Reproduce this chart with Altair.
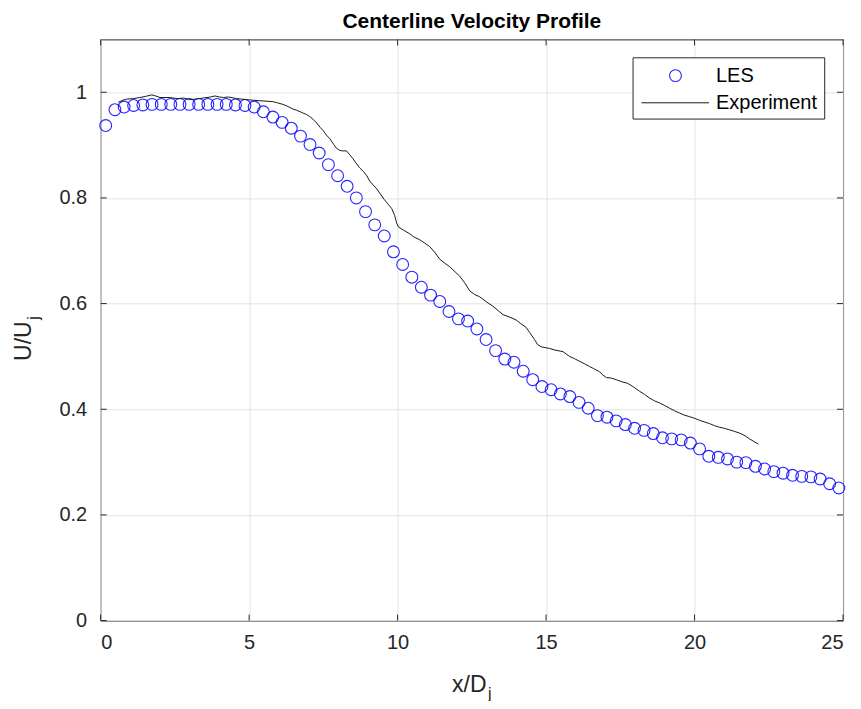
import altair as alt
import pandas as pd

# ---------------- data ----------------
les_x = [0.17, 0.48, 0.79, 1.11, 1.42, 1.73, 2.04, 2.36, 2.67, 2.98,
         3.30, 3.61, 3.92, 4.23, 4.54, 4.86, 5.17, 5.48, 5.80, 6.11,
         6.42, 6.73, 7.05, 7.36, 7.67, 7.98, 8.30, 8.61, 8.92, 9.23,
         9.55, 9.86, 10.17, 10.48, 10.80, 11.11, 11.42, 11.73, 12.05, 12.36,
         12.67, 12.98, 13.30, 13.61, 13.92, 14.23, 14.55, 14.86, 15.17, 15.48,
         15.80, 16.11, 16.42, 16.73, 17.05, 17.36, 17.67, 17.98, 18.30, 18.61,
         18.92, 19.23, 19.55, 19.86, 20.17, 20.48, 20.80, 21.11, 21.42, 21.73,
         22.05, 22.36, 22.67, 22.98, 23.30, 23.61, 23.92, 24.23, 24.55, 24.86]
les_y = [0.937, 0.967, 0.972, 0.975, 0.976, 0.977, 0.977, 0.977, 0.977, 0.977,
         0.977, 0.977, 0.977, 0.977, 0.976, 0.975, 0.972, 0.963, 0.953, 0.943,
         0.932, 0.917, 0.901, 0.885, 0.863, 0.842, 0.822, 0.800, 0.774, 0.749,
         0.728, 0.698, 0.674, 0.650, 0.631, 0.616, 0.604, 0.585, 0.571, 0.567,
         0.552, 0.532, 0.511, 0.495, 0.489, 0.472, 0.456, 0.443, 0.437, 0.429,
         0.424, 0.413, 0.402, 0.388, 0.385, 0.378, 0.371, 0.364, 0.360, 0.354,
         0.346, 0.344, 0.342, 0.336, 0.325, 0.311, 0.309, 0.306, 0.300, 0.299,
         0.292, 0.287, 0.282, 0.279, 0.275, 0.273, 0.272, 0.268, 0.259, 0.251]

exp_x = [0.59, 0.75, 0.87, 1.10, 1.32, 1.50, 1.72, 1.85, 2.00, 2.30,
         2.60, 2.80, 3.00, 3.20, 3.45, 3.70, 3.85, 4.00, 4.13, 4.30,
         4.58, 4.75, 4.91, 5.10, 5.36, 5.60, 5.81, 5.95, 6.14, 6.31,
         6.48, 6.60, 6.80, 6.93, 7.04, 7.15, 7.27, 7.40, 7.50, 7.60,
         7.72, 7.85, 7.94, 8.05, 8.15, 8.28, 8.40, 8.50, 8.60, 8.72,
         8.85, 8.95, 9.06, 9.20, 9.30, 9.40, 9.55, 9.68, 9.80, 9.90,
         9.97, 10.03, 10.20, 10.41, 10.55, 10.74, 10.90, 11.08, 11.25, 11.42,
         11.60, 11.75, 11.90, 12.09, 12.25, 12.43, 12.60, 12.76, 13.00, 13.21,
         13.40, 13.55, 13.75, 13.99, 14.15, 14.33, 14.45, 14.61, 14.72, 14.85,
         15.12, 15.30, 15.57, 15.79, 15.95, 16.12, 16.30, 16.46, 16.60, 16.80,
         16.91, 17.03, 17.20, 17.36, 17.55, 17.75, 17.95, 18.15, 18.32, 18.49,
         18.65, 18.82, 19.00, 19.16, 19.33, 19.49, 19.65, 19.83, 20.00, 20.17,
         20.33, 20.50, 20.67, 20.84, 21.00, 21.18, 21.35, 21.51, 21.70, 21.85,
         22.00, 22.15]
exp_y = [0.981, 0.985, 0.987, 0.988, 0.990, 0.992, 0.995, 0.993, 0.990, 0.990,
         0.988, 0.989, 0.986, 0.987, 0.989, 0.991, 0.993, 0.991, 0.990, 0.991,
         0.988, 0.987, 0.986, 0.985, 0.984, 0.983, 0.982, 0.980, 0.977, 0.973,
         0.968, 0.966, 0.961, 0.958, 0.954, 0.949, 0.942, 0.933, 0.927, 0.919,
         0.912, 0.901, 0.894, 0.890, 0.889, 0.889, 0.881, 0.874, 0.866, 0.857,
         0.850, 0.843, 0.832, 0.823, 0.817, 0.809, 0.797, 0.788, 0.780, 0.767,
         0.752, 0.745, 0.739, 0.732, 0.726, 0.721, 0.715, 0.708, 0.697, 0.684,
         0.676, 0.670, 0.662, 0.652, 0.640, 0.624, 0.617, 0.613, 0.603, 0.595,
         0.586, 0.579, 0.575, 0.569, 0.562, 0.555, 0.545, 0.532, 0.522, 0.518,
         0.515, 0.512, 0.509, 0.500, 0.496, 0.491, 0.486, 0.481, 0.477, 0.471,
         0.465, 0.460, 0.459, 0.456, 0.452, 0.449, 0.442, 0.434, 0.428, 0.421,
         0.416, 0.412, 0.407, 0.402, 0.397, 0.393, 0.389, 0.386, 0.383, 0.379,
         0.376, 0.373, 0.369, 0.366, 0.364, 0.361, 0.358, 0.355, 0.350, 0.344,
         0.339, 0.334]

x_ticks = [0, 5, 10, 15, 20, 25]
y_ticks = [0, 0.2, 0.4, 0.6, 0.8, 1]
legend_labels = ["LES", "Experiment"]
title_text = "Centerline Velocity Profile"
x_title = ["x/D", "j"]
y_title = ["U/U", "j"]

# ---------------- layout / style ----------------
FONT = "Liberation Sans"
W, H = 742.6, 581.4
INK = "#262626"
TICK_FS = 20
LAB_FS = 23
SUB_FS = 16
PT_SIZE = 140

les_df = pd.DataFrame({"x": les_x, "y": les_y})
exp_df = pd.DataFrame({"x": exp_x, "y": exp_y})
xt_df = pd.DataFrame({"x": x_ticks})
yt_df = pd.DataFrame({"y": y_ticks})
one = pd.DataFrame({"k": [0]})

xscale = alt.Scale(domain=[0, 25], nice=False, zero=False)
yscale = alt.Scale(domain=[0, 1.1], nice=False, zero=False)

x_axis = alt.Axis(values=x_ticks, grid=True, gridColor="#e3e3e3", gridWidth=1,
                  domain=False, ticks=False, labelFontSize=TICK_FS, labelFont=FONT,
                  labelColor=INK, labelPadding=12, title=None, format="~g")
y_axis = alt.Axis(values=y_ticks, grid=True, gridColor="#e3e3e3", gridWidth=1,
                  domain=False, ticks=False, labelFontSize=TICK_FS, labelFont=FONT,
                  labelColor=INK, labelPadding=14, title=None, format="~g")

les = alt.Chart(les_df).mark_point(shape="circle", filled=False, color="#0000ff",
                                   size=PT_SIZE, strokeWidth=1.1, opacity=0.85).encode(
    x=alt.X("x:Q", scale=xscale, axis=x_axis),
    y=alt.Y("y:Q", scale=yscale, axis=y_axis),
)

exp = alt.Chart(exp_df).mark_line(color="#1a1a1a", strokeWidth=1).encode(
    x=alt.X("x:Q", scale=xscale),
    y=alt.Y("y:Q", scale=yscale),
)

tick_len = 6
xt_bot = alt.Chart(xt_df).mark_rule(color=INK, strokeWidth=1).encode(
    x=alt.X("x:Q", scale=xscale), y=alt.value(H), y2=alt.value(H - tick_len))
xt_top = alt.Chart(xt_df).mark_rule(color=INK, strokeWidth=1).encode(
    x=alt.X("x:Q", scale=xscale), y=alt.value(0), y2=alt.value(tick_len))
yt_left = alt.Chart(yt_df).mark_rule(color=INK, strokeWidth=1).encode(
    y=alt.Y("y:Q", scale=yscale), x=alt.value(0), x2=alt.value(tick_len))
yt_right = alt.Chart(yt_df).mark_rule(color=INK, strokeWidth=1).encode(
    y=alt.Y("y:Q", scale=yscale), x=alt.value(W), x2=alt.value(W - tick_len))

# legend (drawn manually, MATLAB style)
lg_box = alt.Chart(one).mark_rect(fill="white", stroke=INK, strokeWidth=1).encode(
    x=alt.value(532.6), x2=alt.value(724.3), y=alt.value(18.4), y2=alt.value(79.7))
lg_pt = alt.Chart(one).mark_point(shape="circle", filled=False, color="#0000ff",
                                  size=PT_SIZE, strokeWidth=1.1, opacity=0.85).encode(
    x=alt.value(575), y=alt.value(36.2))
lg_line = alt.Chart(one).mark_rule(color="#1a1a1a", strokeWidth=1).encode(
    x=alt.value(541), x2=alt.value(608.6), y=alt.value(63.4))
lg_txt1 = alt.Chart(pd.DataFrame({"t": [legend_labels[0]]})).mark_text(
    align="left", baseline="middle", font=FONT, fontSize=20, color="black").encode(
    x=alt.value(615.5), y=alt.value(37), text="t:N")
lg_txt2 = alt.Chart(pd.DataFrame({"t": [legend_labels[1]]})).mark_text(
    align="left", baseline="middle", font=FONT, fontSize=20, color="black").encode(
    x=alt.value(615.5), y=alt.value(64), text="t:N")

# axis titles with subscripts
xt_main = alt.Chart(pd.DataFrame({"t": [x_title[0]]})).mark_text(
    align="right", baseline="alphabetic", font=FONT, fontSize=LAB_FS, color=INK).encode(
    x=alt.value(386), y=alt.value(653), text="t:N")
xt_sub = alt.Chart(pd.DataFrame({"t": [x_title[1]]})).mark_text(
    align="left", baseline="alphabetic", font=FONT, fontSize=SUB_FS, color=INK).encode(
    x=alt.value(387.5), y=alt.value(660), text="t:N")
yt_main = alt.Chart(pd.DataFrame({"t": [y_title[0]]})).mark_text(
    align="right", baseline="alphabetic", angle=270, font=FONT, fontSize=LAB_FS, color=INK).encode(
    x=alt.value(-70), y=alt.value(282), text="t:N")
yt_sub = alt.Chart(pd.DataFrame({"t": [y_title[1]]})).mark_text(
    align="left", baseline="alphabetic", angle=270, font=FONT, fontSize=SUB_FS, color=INK).encode(
    x=alt.value(-62), y=alt.value(280.5), text="t:N")

# chart title as a text mark centred over the plot
title_mark = alt.Chart(pd.DataFrame({"t": [title_text]})).mark_text(
    align="center", baseline="alphabetic", font=FONT, fontSize=21, fontWeight="bold",
    color="black").encode(
    x=alt.value(W / 2), y=alt.value(-11), text="t:N")

chart = alt.layer(
    les, exp, xt_bot, xt_top, yt_left, yt_right,
    lg_box, lg_pt, lg_line, lg_txt1, lg_txt2,
    xt_main, xt_sub, yt_main, yt_sub, title_mark,
).properties(
    width=W, height=H,
    autosize=alt.AutoSizeParams(type="none"),
    padding={"left": 92.7, "top": 31.3, "right": 10, "bottom": 80},
).configure_view(stroke=INK, strokeWidth=1)

chart.save("out.html", embed_options={"renderer": "svg", "actions": False})
